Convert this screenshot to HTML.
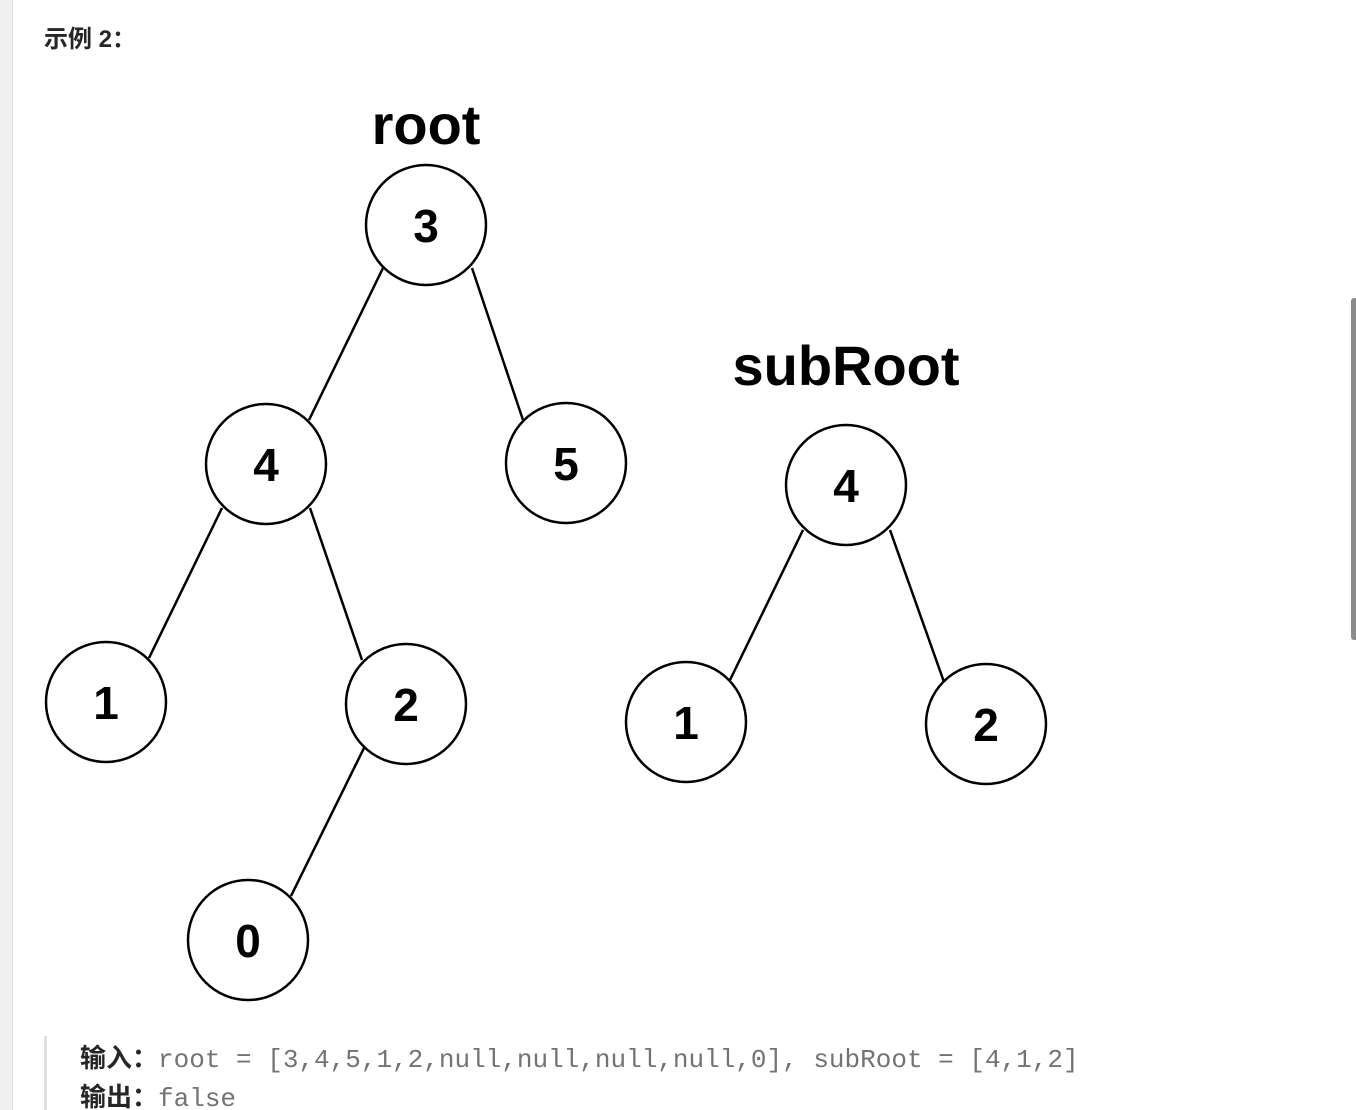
<!DOCTYPE html>
<html><head><meta charset="utf-8"><style>
html,body{margin:0;padding:0;background:#fff;width:1356px;height:1110px;overflow:hidden;position:relative}
.strip{position:absolute;left:0;top:0;width:12px;height:1110px;background:#f0f0f0;border-right:1px solid #e2e2e2}
.title{position:absolute;left:44px;top:19px;font:bold 24px "Liberation Sans","Noto Sans CJK SC",sans-serif;color:#262626}
.quote{position:absolute;left:44px;top:1036px;width:3px;height:80px;background:#e0e0e0}
.line{position:absolute;left:80px;font-size:26px;color:#737373;font-family:"Liberation Mono","DejaVu Sans Mono",monospace;white-space:pre}
.line b{font-family:"Liberation Sans","Noto Sans CJK SC",sans-serif;color:#262626;font-weight:bold}
.sb{position:absolute;left:1351px;top:298px;width:5px;height:342px;background:#8c8c8c;border-radius:3px 0 0 3px}
</style></head><body>
<div class="strip"></div>
<div class="title">示例 2：</div>
<svg width="1356" height="1110" style="position:absolute;left:0;top:0" xmlns="http://www.w3.org/2000/svg">
<g stroke="#000" stroke-width="2.5" fill="none">
<line x1="383" y1="268" x2="309" y2="420"/>
<line x1="472" y1="268" x2="523" y2="420"/>
<line x1="222" y1="508" x2="149" y2="658"/>
<line x1="310" y1="508" x2="362" y2="660"/>
<line x1="364" y1="748" x2="291" y2="896"/>
<line x1="803" y1="530" x2="730" y2="680"/>
<line x1="890" y1="530" x2="944" y2="682"/>
<circle cx="426" cy="225" r="60"/>
<circle cx="266" cy="464" r="60"/>
<circle cx="566" cy="463" r="60"/>
<circle cx="106" cy="702" r="60"/>
<circle cx="406" cy="704" r="60"/>
<circle cx="248" cy="940" r="60"/>
<circle cx="846" cy="485" r="60"/>
<circle cx="686" cy="722" r="60"/>
<circle cx="986" cy="724" r="60"/>
</g>
<g font-family="Liberation Sans, sans-serif" font-weight="bold" font-size="46" text-anchor="middle" fill="#000">
<text x="426" y="242">3</text>
<text x="266" y="481">4</text>
<text x="566" y="480">5</text>
<text x="106" y="719">1</text>
<text x="406" y="721">2</text>
<text x="248" y="957">0</text>
<text x="846" y="502">4</text>
<text x="686" y="739">1</text>
<text x="986" y="741">2</text>
<text x="426" y="144" font-size="56">root</text>
<text x="846" y="385" font-size="56">subRoot</text>
</g>
</svg>
<div class="quote"></div>
<div class="line" style="top:1038px"><b>输入：</b>root = [3,4,5,1,2,null,null,null,null,0], subRoot = [4,1,2]</div>
<div class="line" style="top:1077px"><b>输出：</b>false</div>
<div class="sb"></div>
</body></html>
